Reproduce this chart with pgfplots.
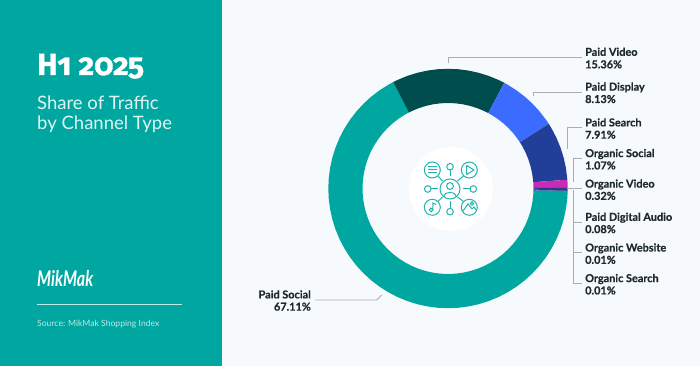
\documentclass[border=0pt]{standalone}
\usepackage{fontspec}
\setmainfont{Lato}[BoldFeatures={FakeBold=0.6}]
\newfontfamily\titlefont[Numbers=OldStyle,BoldFeatures={FakeBold=1.0}]{Fira Sans}
\usepackage{pgfplots}
\pgfplotsset{compat=1.18}
\usepgfplotslibrary{polar}
\definecolor{teal}{HTML}{00A6A0}
\definecolor{deep}{HTML}{004D4D}
\definecolor{blue}{HTML}{3B6CFF}
\definecolor{navy}{HTML}{213F99}
\definecolor{mag}{HTML}{C92BB5}
\definecolor{bg}{HTML}{F7FAFD}
\definecolor{ink}{HTML}{1E2A30}
\definecolor{lead}{HTML}{A9AEB2}
\definecolor{ico}{HTML}{22B3AD}
\begin{document}
\begin{tikzpicture}[x=1pt,y=1pt]
\fill[bg] (0,0) rectangle (700,366);
\fill[teal] (0,0) rectangle (222,366);
\begin{polaraxis}[at={(448pt,177.5pt)},anchor=center,scale only axis,width=239.4pt,height=239.4pt,hide axis,
  xmin=0,xmax=360,ymin=0,ymax=119.7,clip=false,every axis plot/.append style={draw=none,mark=none}]
% Paid Social 67.11%
\addplot[fill=teal] coordinates {(117.26,119.7)(120,119.7)(125,119.7)(130,119.7)(135,119.7)(140,119.7)(145,119.7)(150,119.7)(155,119.7)(160,119.7)(165,119.7)(170,119.7)(175,119.7)(180,119.7)(185,119.7)(190,119.7)(195,119.7)(200,119.7)(205,119.7)(210,119.7)(215,119.7)(220,119.7)(225,119.7)(230,119.7)(235,119.7)(240,119.7)(245,119.7)(250,119.7)(255,119.7)(260,119.7)(265,119.7)(270,119.7)(275,119.7)(280,119.7)(285,119.7)(290,119.7)(295,119.7)(300,119.7)(305,119.7)(310,119.7)(315,119.7)(320,119.7)(325,119.7)(330,119.7)(335,119.7)(340,119.7)(345,119.7)(350,119.7)(355,119.7)(358.86,119.7)
(358.86,85.5)(355,85.5)(350,85.5)(345,85.5)(340,85.5)(335,85.5)(330,85.5)(325,85.5)(320,85.5)(315,85.5)(310,85.5)(305,85.5)(300,85.5)(295,85.5)(290,85.5)(285,85.5)(280,85.5)(275,85.5)(270,85.5)(265,85.5)(260,85.5)(255,85.5)(250,85.5)(245,85.5)(240,85.5)(235,85.5)(230,85.5)(225,85.5)(220,85.5)(215,85.5)(210,85.5)(205,85.5)(200,85.5)(195,85.5)(190,85.5)(185,85.5)(180,85.5)(175,85.5)(170,85.5)(165,85.5)(160,85.5)(155,85.5)(150,85.5)(145,85.5)(140,85.5)(135,85.5)(130,85.5)(125,85.5)(120,85.5)(117.26,85.5)};
% Paid Video 15.36%
\addplot[fill=deep] coordinates {(61.96,119.7)(65,119.7)(70,119.7)(75,119.7)(80,119.7)(85,119.7)(90,119.7)(95,119.7)(100,119.7)(105,119.7)(110,119.7)(115,119.7)(117.26,119.7)
(117.26,85.5)(115,85.5)(110,85.5)(105,85.5)(100,85.5)(95,85.5)(90,85.5)(85,85.5)(80,85.5)(75,85.5)(70,85.5)(65,85.5)(61.96,85.5)};
% Paid Display 8.13%
\addplot[fill=blue] coordinates {(32.69,119.7)(35,119.7)(40,119.7)(45,119.7)(50,119.7)(55,119.7)(60,119.7)(61.96,119.7)
(61.96,85.5)(60,85.5)(55,85.5)(50,85.5)(45,85.5)(40,85.5)(35,85.5)(32.69,85.5)};
% Paid Search 7.91%
\addplot[fill=navy] coordinates {(4.21,119.7)(10,119.7)(15,119.7)(20,119.7)(25,119.7)(30,119.7)(32.69,119.7)
(32.69,85.5)(30,85.5)(25,85.5)(20,85.5)(15,85.5)(10,85.5)(4.21,85.5)};
% Organic Social 1.07%
\addplot[fill=mag] coordinates {(0.36,119.7)(2,119.7)(4.21,119.7)(4.21,85.5)(2,85.5)(0.36,85.5)};
% Organic Video 0.32%
\addplot[fill=navy] coordinates {(359.21,119.7)(0.36,119.7)(0.36,85.5)(359.21,85.5)};
% Paid Digital Audio 0.08%
\addplot[fill=deep] coordinates {(358.93,119.7)(359.21,119.7)(359.21,85.5)(358.93,85.5)};
% Organic Website 0.01%, Organic Search 0.01%
\addplot[fill=navy] coordinates {(358.89,119.7)(358.93,119.7)(358.93,85.5)(358.89,85.5)};
\addplot[fill=mag] coordinates {(358.86,119.7)(358.89,119.7)(358.89,85.5)(358.86,85.5)};
\end{polaraxis}
\begin{scope}[shift={(0pt,366pt)},x=1pt,y=-1pt]
% left panel
\node[anchor=base west,inner sep=0,text=white,font=\titlefont\bfseries\fontsize{30.5}{30}\selectfont] at (37,75) {H1 2025};
\node[anchor=base west,inner sep=0,text=white!88!teal,font=\fontsize{18.5}{18}\selectfont] at (37,109.3) {Share of Traffic};
\node[anchor=base west,inner sep=0,text=white!88!teal,font=\fontsize{18.5}{18}\selectfont] at (37,129.3) {by Channel Type};
\node[anchor=base west,inner sep=0,text=white,font=\bfseries\itshape\fontsize{18}{18}\selectfont] at (37,287) {\scalebox{0.89}[1.2]{MikMak}};
\draw[white!75!teal,line width=1.2pt] (37,304.5) -- (181.5,304.5);
\node[anchor=base west,inner sep=0,text=white!75!teal,font=\fontsize{8.6}{8.6}\selectfont] at (37,327) {Source: MikMak Shopping Index};
% leaders
\begin{scope}[lead,line width=0.8pt]
\draw (448,63.3) -- (448,57.3) -- (581.7,57.3);
\draw (533.3,96) -- (533.3,92) -- (581.7,92);
\draw (567,148.7) -- (567,127.7) -- (581.7,127.7);
\draw (581.7,158.3) -- (573.7,158.3) -- (573.7,182);
\draw (567,188.8) -- (581.7,188.8);
\draw (573.7,190) -- (573.7,283.3) -- (581.7,283.3);
\draw (573.7,222.3) -- (581.7,222.3);
\draw (573.7,252.7) -- (581.7,252.7);
\draw (381.7,295) -- (376.7,300) -- (315,300);
\end{scope}
% labels
\tikzset{lab/.style={anchor=base west,inner sep=0,text=ink,font=\bfseries\fontsize{10.9}{11}\selectfont}}
\node[lab] at (585,55.8) {Paid Video};
\node[lab] at (585,68.3) {15.36\%};
\node[lab] at (585,90.6) {Paid Display};
\node[lab] at (585,103) {8.13\%};
\node[lab] at (585,126.4) {Paid Search};
\node[lab] at (585,138.7) {7.91\%};
\node[lab] at (585,157.1) {Organic Social};
\node[lab] at (585,169.4) {1.07\%};
\node[lab] at (585,187.6) {Organic Video};
\node[lab] at (585,199.8) {0.32\%};
\node[lab] at (585,220.8) {Paid Digital Audio};
\node[lab] at (585,233.1) {0.08\%};
\node[lab] at (585,251.5) {Organic Website};
\node[lab] at (585,263.8) {0.01\%};
\node[lab] at (585,282.1) {Organic Search};
\node[lab] at (585,294.4) {0.01\%};
\node[lab,anchor=base east] at (311,298.4) {Paid Social};
\node[lab,anchor=base east] at (311,310.6) {67.11\%};
% icon
\fill[white] (450.7,189) circle (42);
\begin{scope}[ico,line width=1pt]
\draw (450,189) circle (10);
\draw (450,186) circle (3.4);
\draw (443.5,196.5) .. controls (444,191) and (456,191) .. (456.5,196.5);
\draw (432.3,170) circle (8);
\draw (469.3,170) circle (8);
\draw (432.3,207.3) circle (8);
\draw (469.3,207.3) circle (8);
\draw (450,166.7) circle (3.3);
\draw (450,211.7) circle (3.3);
\draw (427.7,189) circle (3.3);
\draw (473.3,189) circle (3.3);
\draw (450,170) -- (450,176.5);
\draw (450,201.5) -- (450,208.4);
\draw (431,189) -- (437.5,189);
\draw (462.5,189) -- (470,189);
\draw (438,176) -- (442.5,181);
\draw (463.5,176) -- (457.5,181);
\draw (438,201.5) -- (442.5,197);
\draw (463.5,201.5) -- (457.5,197);
% list
\draw (428,167) -- (436.5,167) (428,170) -- (436.5,170) (428,173) -- (436.5,173);
% play
\draw[line join=round] (466.7,165.5) -- (474,170) -- (466.7,174.5) -- cycle;
% note
\draw (431,210) circle (1.8) (432.8,210) -- (432.8,203) -- (436,204.5);
% image
\draw (463,211) -- (468,204) -- (472,209) -- (474,207) -- (476,210);
\draw (472,203.5) circle (1.6);
\end{scope}
\end{scope}
\end{tikzpicture}
\end{document}
